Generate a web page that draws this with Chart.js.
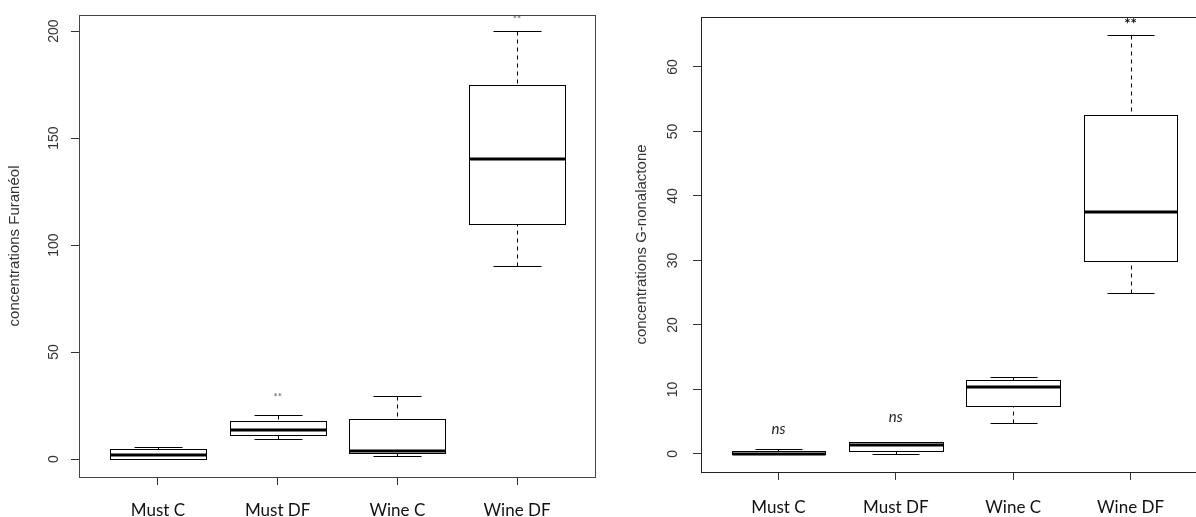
<!DOCTYPE html>
<html>
<head>
<meta charset="utf-8">
<script src="https://cdn.jsdelivr.net/npm/chart.js@4.4.1/dist/chart.umd.min.js"></script>
<style>
  html, body { margin: 0; padding: 0; background: #fff; overflow: hidden; width: 1196px; height: 517px; }
  canvas { position: absolute; top: 0; }
  #furChart { left: 0; }
  #nonChart { left: 600px; }
</style>
</head>
<body>
<canvas id="furChart" width="600" height="517"></canvas>
<canvas id="nonChart" width="612" height="517"></canvas>
<script>
const categories = ['Must C', 'Must DF', 'Wine C', 'Wine DF'];

// Furanéol
const furMin = [0, 9.3, 1.4, 90];
const furQ1 = [0.2, 11.2, 2.8, 110];
const furMed = [1.9, 13.6, 3.7, 140];
const furQ3 = [4.7, 17.8, 18.7, 175];
const furMax = [5.6, 20.6, 29.4, 200];
const furTicks = [0, 50, 100, 150, 200];
const furSig = ['', '**', '', '**'];
const furSigAt = [null, 27.6, null, 204];

// G-nonalactone
const nonMin = [0, 0, 4.8, 25];
const nonQ1 = [0, 0.5, 7.4, 29.9];
const nonMed = [0, 1.4, 10.4, 37.5];
const nonQ3 = [0.5, 1.9, 11.5, 52.6];
const nonMax = [0.8, 1.9, 11.9, 65];
const nonTicks = [0, 10, 20, 30, 40, 50, 60];
const nonSig = ['ns', 'ns', '', '**'];
const nonSigAt = [3.1, 5.0, null, 65.9];

// R-style box plot drawn on top of chart.js scales
const boxplotPlugin = {
    id: 'boxplot',
    afterDatasetsDraw(chart, args, o) {
        const ctx = chart.ctx;
        const a = chart.chartArea;
        const x = chart.scales.x, y = chart.scales.y;
        const snap = v => Math.round(v) + 0.5;
        const line = (x1, y1, x2, y2) => {
            ctx.beginPath();
            ctx.moveTo(x1, y1);
            ctx.lineTo(x2, y2);
            ctx.stroke();
        };
        ctx.save();
        ctx.strokeStyle = '#000';
        for (let i = 0; i < o.med.length; i++) {
            const xc = snap(x.getPixelForValue(i + 1));
            const xl = snap(x.getPixelForValue(i + 1 - 0.4));
            const xr = snap(x.getPixelForValue(i + 1 + 0.4));
            const cl = snap(x.getPixelForValue(i + 1 - 0.2));
            const cr = snap(x.getPixelForValue(i + 1 + 0.2));
            const yMax = snap(y.getPixelForValue(o.max[i]));
            const yMin = snap(y.getPixelForValue(o.min[i]));
            const yQ1 = snap(y.getPixelForValue(o.q1[i]));
            const yQ3 = snap(y.getPixelForValue(o.q3[i]));
            const yMed = Math.round(y.getPixelForValue(o.med[i]));

            ctx.lineWidth = 1;
            ctx.setLineDash([4, 4]);
            if (yMax < yQ3) line(xc, yMax, xc, yQ3);
            if (yMin > yQ1) line(xc, yMin, xc, yQ1);
            ctx.setLineDash([]);
            line(cl, yMax, cr, yMax);
            line(cl, yMin, cr, yMin);

            ctx.fillStyle = '#fff';
            ctx.fillRect(xl, yQ3, xr - xl, yQ1 - yQ3);
            ctx.strokeRect(xl, yQ3, xr - xl, yQ1 - yQ3);

            ctx.lineWidth = 3;
            line(xl, yMed, xr, yMed);
        }

        // significance marks
        for (let i = 0; i < o.sig.length; i++) {
            if (!o.sig[i]) continue;
            const isStar = o.sig[i].indexOf('*') >= 0;
            ctx.font = isStar ? o.starFont : o.nsFont;
            ctx.fillStyle = isStar ? o.starColor : '#222';
            ctx.textAlign = 'center';
            ctx.textBaseline = 'alphabetic';
            ctx.fillText(o.sig[i], x.getPixelForValue(i + 1), y.getPixelForValue(o.sigAt[i]));
        }

        // frame
        ctx.lineWidth = 1;
        ctx.strokeStyle = o.frameColor;
        ctx.strokeRect(a.left + 0.5, a.top + 0.5, a.right - a.left - 1, a.bottom - a.top);
        ctx.restore();
    },
    afterDraw(chart, args, o) {
        const ctx = chart.ctx;
        const a = chart.chartArea;
        const y = chart.scales.y;
        ctx.save();
        ctx.fillStyle = '#333';
        ctx.textAlign = 'center';
        ctx.textBaseline = 'middle';
        ctx.font = '14px "Liberation Sans", Arial, sans-serif';
        y.ticks.forEach(t => {
            ctx.save();
            ctx.translate(a.left - o.tickGap, y.getPixelForValue(t.value));
            ctx.rotate(-Math.PI / 2);
            ctx.fillText(String(t.value), 0, 0);
            ctx.restore();
        });
        ctx.font = '15px "Liberation Sans", Arial, sans-serif';
        ctx.translate(a.left - o.titleGap, (a.top + a.bottom) / 2);
        ctx.rotate(-Math.PI / 2);
        ctx.fillText(o.title, 0, 0);
        ctx.restore();
    }
};

function makeChart(id, cfg) {
    const ctx = document.getElementById(id).getContext('2d');
    return new Chart(ctx, {
        type: 'scatter',
        data: {
            datasets: [{
                data: cfg.med.map((v, i) => ({ x: i + 1, y: v })),
                pointRadius: 0,
                showLine: false
            }]
        },
        options: {
            responsive: false,
            animation: false,
            devicePixelRatio: 1,
            layout: { padding: { left: 0, top: cfg.top, right: 4, bottom: 0 } },
            plugins: {
                legend: { display: false },
                tooltip: { enabled: false },
                boxplot: cfg
            },
            scales: {
                x: {
                    type: 'linear',
                    min: 0.34,
                    max: 4.66,
                    afterBuildTicks: s => { s.ticks = categories.map((c, i) => ({ value: i + 1 })); },
                    afterFit: s => { s.height = cfg.xHeight; },
                    ticks: {
                        autoSkip: false,
                        maxRotation: 0,
                        padding: cfg.xPad,
                        color: '#111',
                        font: { family: 'Lato, "Open Sans", sans-serif', size: 17 },
                        callback: v => categories[Math.round(v) - 1]
                    },
                    grid: { drawOnChartArea: false, drawTicks: true, tickLength: 8, color: '#333' },
                    border: { display: false }
                },
                y: {
                    min: cfg.yMin,
                    max: cfg.yMax,
                    afterBuildTicks: s => { s.ticks = cfg.ticks.map(v => ({ value: v })); },
                    afterFit: s => { s.width = cfg.yWidth; },
                    ticks: { display: false },
                    grid: { drawOnChartArea: false, drawTicks: true, tickLength: 8, color: '#333' },
                    border: { display: false }
                }
            }
        },
        plugins: [boxplotPlugin]
    });
}

makeChart('furChart', {
    min: furMin, q1: furQ1, med: furMed, q3: furQ3, max: furMax,
    ticks: furTicks, sig: furSig, sigAt: furSigAt,
    yMin: -8.4, yMax: 207.5,
    top: 15, xHeight: 40, yWidth: 79, xPad: 15,
    tickGap: 25, titleGap: 64,
    title: 'concentrations Furanéol',
    frameColor: '#444',
    starFont: 'bold 10px Lato, sans-serif', starColor: '#777',
    nsFont: 'italic 14px Lato, sans-serif'
});

makeChart('nonChart', {
    min: nonMin, q1: nonQ1, med: nonMed, q3: nonQ3, max: nonMax,
    ticks: nonTicks, sig: nonSig, sigAt: nonSigAt,
    yMin: -2.8, yMax: 67.75,
    top: 17, xHeight: 45, yWidth: 101, xPad: 17,
    tickGap: 28, titleGap: 59,
    title: 'concentrations G-nonalactone',
    frameColor: '#222',
    starFont: 'bold 15px Lato, sans-serif', starColor: '#111',
    nsFont: 'italic 15px Lato, sans-serif'
});
</script>
</body>
</html>
